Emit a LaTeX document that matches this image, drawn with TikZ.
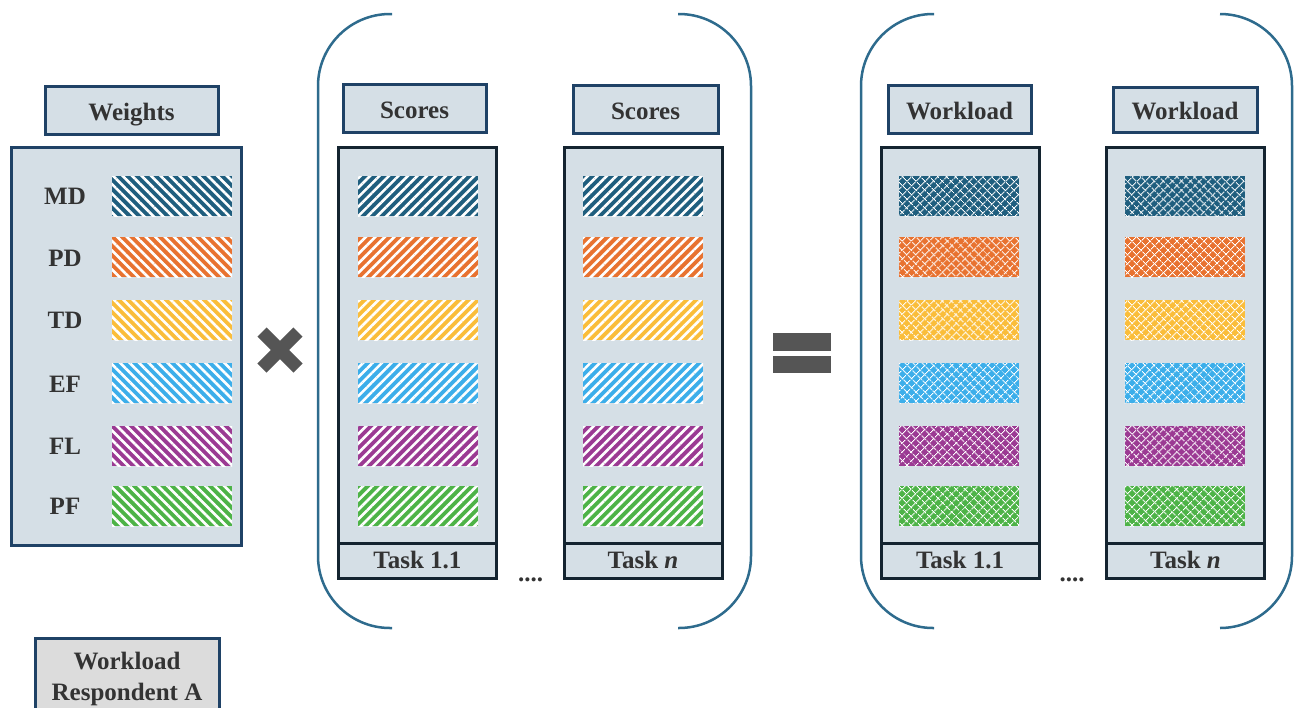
\documentclass[tikz,border=0pt]{standalone}
\usepackage{fontspec}
\setmainfont{Liberation Serif}
\usetikzlibrary{patterns.meta}
\definecolor{boxfill}{HTML}{D5DFE6}
\definecolor{titleblue}{HTML}{1F4266}
\definecolor{coldark}{HTML}{142430}
\definecolor{textgray}{HTML}{333333}
\definecolor{respfill}{HTML}{DCDCDC}
\definecolor{parenc}{HTML}{2E6B8D}
\definecolor{opgray}{HTML}{555555}
\definecolor{mdc}{HTML}{1F5E7E}
\definecolor{pdc}{HTML}{E87230}
\definecolor{tdc}{HTML}{FABD3A}
\definecolor{efc}{HTML}{3CAEEA}
\definecolor{flc}{HTML}{9B3A93}
\definecolor{pfc}{HTML}{4DB347}

\begin{document}
\begin{tikzpicture}[x=1pt, y=-1pt,
  txt/.style={font=\fontsize{25}{31}\selectfont\bfseries, text=textgray},
  title/.style={txt, draw=titleblue, line width=3pt, fill=boxfill, minimum width=144, minimum height=48, inner sep=0pt, text height=20pt, text depth=0pt},
  col/.style={draw=coldark, line width=3pt, fill=boxfill, minimum width=158, minimum height=396, inner sep=0pt},
  task/.style={txt, draw=coldark, line width=3pt, fill=boxfill, minimum width=158, minimum height=35, inner sep=0pt, text height=18pt, text depth=2pt},
  lbl/.style={txt},
  bar/.style={fill=#1, minimum width=120, minimum height=40, inner sep=0pt},
  wbar/.style={bar=#1, postaction={pattern={Lines[angle=-45,distance=6.7pt,line width=2.6pt]}, pattern color=white}},
  sbar/.style={bar=#1, postaction={pattern={Lines[angle=45,distance=6.7pt,line width=2.6pt]}, pattern color=white}},
  lbar/.style={bar=#1, postaction={pattern={Lines[angle=45,distance=6.5pt,line width=1pt]}, pattern color=white},
    postaction={pattern={Lines[angle=-45,distance=6.5pt,line width=1pt]}, pattern color=white}},
  paren/.style={draw=parenc, line width=2.5pt, rounded corners=72},
  opsign/.style={draw=opgray, line width=13}
]
\useasboundingbox (0,0) rectangle (1298,707);

% weights
\node[title, minimum width=173] (wtitle) at (131.5,110) {Weights};
\node[col, draw=titleblue, minimum width=230, minimum height=398] (wbox) at (126,346) {};

\node[lbl] (md) at (65,196) {MD};
\node[lbl] (pd) at (65,258) {PD};
\node[lbl] (td) at (65,320) {TD};
\node[lbl] (ef) at (65,384) {EF};
\node[lbl] (fl) at (65,446) {FL};
\node[lbl] (pf) at (65,506) {PF};

\node[wbar=mdc] (wmd) at (172,196) {};
\node[wbar=pdc] (wpd) at (172,257) {};
\node[wbar=tdc] (wtd) at (172,320) {};
\node[wbar=efc] (wef) at (172,383) {};
\node[wbar=flc] (wfl) at (172,446) {};
\node[wbar=pfc] (wpf) at (172,506) {};

% times
\draw[opsign] (262,332) -- (298,368);
\draw[opsign] (298,332) -- (262,368);

% scores
\draw[paren] (392,14) -- (318,14) -- (318,628) -- (392,628);
\draw[paren] (678,14) -- (751,14) -- (751,628) -- (678,628);

\node[title, minimum width=143] (stitle1) at (414.5,108.5) {Scores};
\node[title, minimum width=145] (stitle2) at (645.5,109) {Scores};

\node[col] (scol1) at (417.5,345) {};
\node[task] (stask1) at (417.5,560.5) {Task 1.1};
\node[col] (scol2) at (643,345) {};
\node[task] (stask2) at (643,560.5) {Task \textit{n}};
\node[txt, anchor=base] (sdots) at (530.5,581) {....};

\node[sbar=mdc] (s1md) at (418,196) {};
\node[sbar=pdc] (s1pd) at (418,257) {};
\node[sbar=tdc] (s1td) at (418,320) {};
\node[sbar=efc] (s1ef) at (418,383) {};
\node[sbar=flc] (s1fl) at (418,446) {};
\node[sbar=pfc] (s1pf) at (418,506) {};

\node[sbar=mdc] (s2md) at (643,196) {};
\node[sbar=pdc] (s2pd) at (643,257) {};
\node[sbar=tdc] (s2td) at (643,320) {};
\node[sbar=efc] (s2ef) at (643,383) {};
\node[sbar=flc] (s2fl) at (643,446) {};
\node[sbar=pfc] (s2pf) at (643,506) {};

% equals
\fill[opgray] (773,333) rectangle (831,351);
\fill[opgray] (773,356) rectangle (831,373);

% workload
\draw[paren] (934,14) -- (861,14) -- (861,628) -- (934,628);
\draw[paren] (1220,14) -- (1292,14) -- (1292,628) -- (1220,628);

\node[title, minimum width=143] (ltitle1) at (959.5,109.5) {Workload};
\node[title, minimum width=144, minimum height=45] (ltitle2) at (1185,109.5) {Workload};

\node[col] (lcol1) at (960,345) {};
\node[task] (ltask1) at (960,560.5) {Task 1.1};
\node[col] (lcol2) at (1185.5,345) {};
\node[task] (ltask2) at (1185.5,560.5) {Task \textit{n}};
\node[txt, anchor=base] (ldots) at (1072,581) {....};

\node[lbar=mdc] (l1md) at (959,196) {};
\node[lbar=pdc] (l1pd) at (959,257) {};
\node[lbar=tdc] (l1td) at (959,320) {};
\node[lbar=efc] (l1ef) at (959,383) {};
\node[lbar=flc] (l1fl) at (959,446) {};
\node[lbar=pfc] (l1pf) at (959,506) {};

\node[lbar=mdc] (l2md) at (1184.5,196) {};
\node[lbar=pdc] (l2pd) at (1184.5,257) {};
\node[lbar=tdc] (l2td) at (1184.5,320) {};
\node[lbar=efc] (l2ef) at (1184.5,383) {};
\node[lbar=flc] (l2fl) at (1184.5,446) {};
\node[lbar=pfc] (l2pf) at (1184.5,506) {};

% respondent
\node[title, fill=respfill, minimum width=184, minimum height=80, anchor=north, align=center, text height=, text depth=] (resp) at (127,637) {Workload\\Respondent A};

\end{tikzpicture}
\end{document}
